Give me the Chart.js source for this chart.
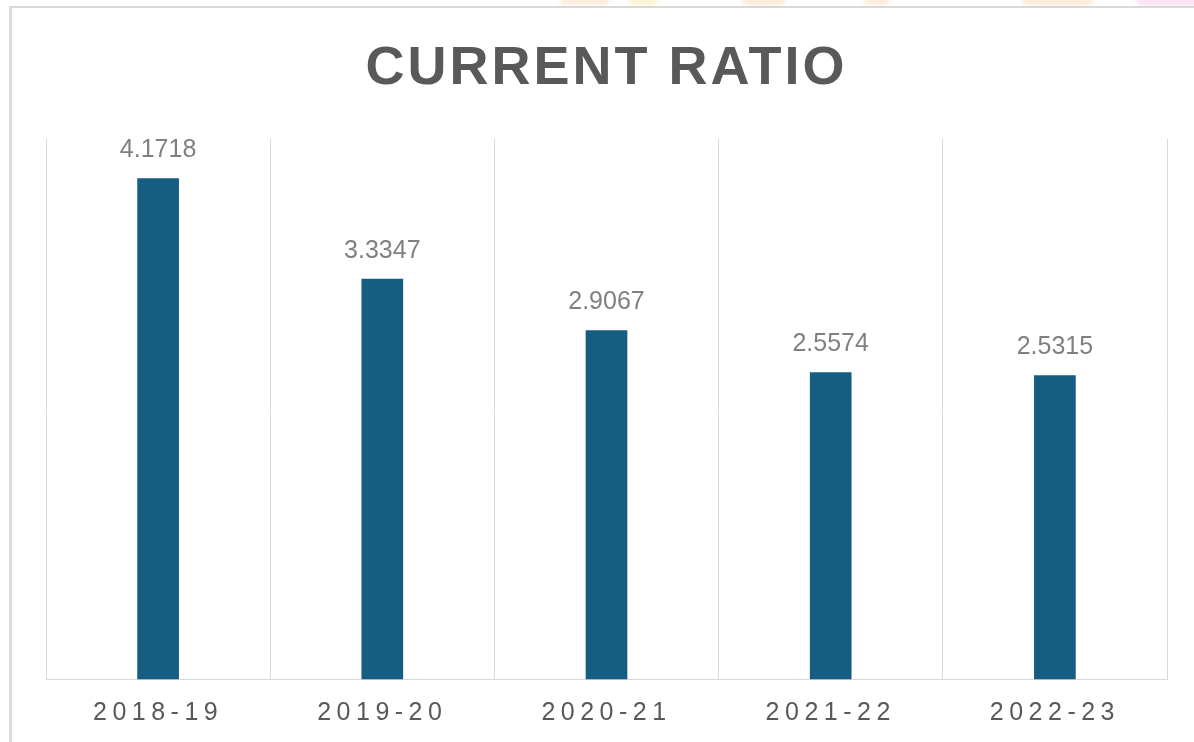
<!DOCTYPE html>
<html>
<head>
<meta charset="utf-8">
<script src="https://cdn.jsdelivr.net/npm/chart.js@4.4.1/dist/chart.umd.min.js"></script>
<style>
  html, body { margin: 0; padding: 0; background: #ffffff; }
  #wrap { position: relative; width: 1194px; height: 742px; overflow: hidden; background: #ffffff; }
  .blob { position: absolute; top: -6px; height: 12px; border-radius: 6px; filter: blur(2px); opacity: 0.8; }
  #frame { position: absolute; left: 9px; top: 6px; width: 1200px; height: 760px;
           border-top: 2px solid #d9d9d9; border-left: 3px solid #dddddd; box-sizing: border-box; background: #ffffff; }
  canvas { position: absolute; left: 0; top: 0; }
</style>
</head>
<body>
<div id="wrap">
  <div class="blob" style="left:560px;width:50px;background:#fde9d6;"></div>
  <div class="blob" style="left:628px;width:30px;background:#fdf2cc;"></div>
  <div class="blob" style="left:742px;width:44px;background:#fde7d4;"></div>
  <div class="blob" style="left:864px;width:26px;background:#fde9d6;"></div>
  <div class="blob" style="left:1022px;width:72px;background:#fde7d4;"></div>
  <div class="blob" style="left:1136px;width:70px;background:#fbdcf1;"></div>
  <div id="frame"></div>
  <canvas id="c" width="1194" height="742"></canvas>
</div>
<script>
const titleText = 'CURRENT RATIO';
const categories = ['2018-19', '2019-20', '2020-21', '2021-22', '2022-23'];
const currentRatio = [4.1718, 3.3347, 2.9067, 2.5574, 2.5315];
const dataLabels = ['4.1718', '3.3347', '2.9067', '2.5574', '2.5315'];

const FONT = '"Liberation Sans", Arial, Helvetica, sans-serif';

const spacingPlugin = {
  id: 'spacingPlugin',
  beforeDraw(chart) {
    const sc = chart.scales.x;
    if (sc && !sc._spaced) {
      const orig = sc.drawLabels;
      sc.drawLabels = function (area) {
        const c = this.ctx;
        c.save();
        c.letterSpacing = '5.5px';
        orig.call(this, area);
        c.restore();
      };
      sc._spaced = true;
    }
    const tb = chart.titleBlock;
    if (tb && !tb._spaced) {
      const origT = tb.draw;
      tb.draw = function () {
        const c = this.ctx;
        c.save();
        c.letterSpacing = '3px';
        origT.apply(this, arguments);
        c.restore();
      };
      tb._spaced = true;
    }
  }
};

const valueLabelPlugin = {
  id: 'valueLabelPlugin',
  afterDatasetsDraw(chart) {
    const ctx = chart.ctx;
    const meta = chart.getDatasetMeta(0);
    ctx.save();
    ctx.font = '25px ' + FONT;
    ctx.fillStyle = '#808080';
    ctx.textAlign = 'center';
    ctx.textBaseline = 'alphabetic';
    meta.data.forEach((bar, i) => {
      ctx.fillText(dataLabels[i], bar.x, bar.y - 21);
    });
    ctx.restore();
  }
};

new Chart(document.getElementById('c'), {
  type: 'bar',
  data: {
    labels: categories,
    datasets: [{
      data: currentRatio,
      backgroundColor: '#165e81',
      borderWidth: 0,
      categoryPercentage: 1,
      barPercentage: 0.186
    }]
  },
  options: {
    responsive: false,
    animation: false,
    devicePixelRatio: 1,
    layout: { padding: { left: 46, right: 27, top: 0, bottom: -5 } },
    plugins: {
      legend: { display: false },
      tooltip: { enabled: false },
      title: {
        display: true,
        text: titleText,
        color: '#595959',
        font: { family: FONT, size: 54, weight: 'bold', lineHeight: 1.2 },
        padding: { top: 37, bottom: 37 }
      }
    },
    scales: {
      x: {
        grid: { display: true, offset: true, color: '#d9d9d9', lineWidth: 1, drawTicks: false },
        border: { display: true, color: '#d9d9d9', width: 1 },
        ticks: { color: '#595959', padding: 20, font: { family: FONT, size: 25, lineHeight: 1.1 }, maxRotation: 0 }
      },
      y: {
        display: false,
        min: 0,
        max: 4.5
      }
    }
  },
  plugins: [spacingPlugin, valueLabelPlugin]
});
</script>
</body>
</html>
